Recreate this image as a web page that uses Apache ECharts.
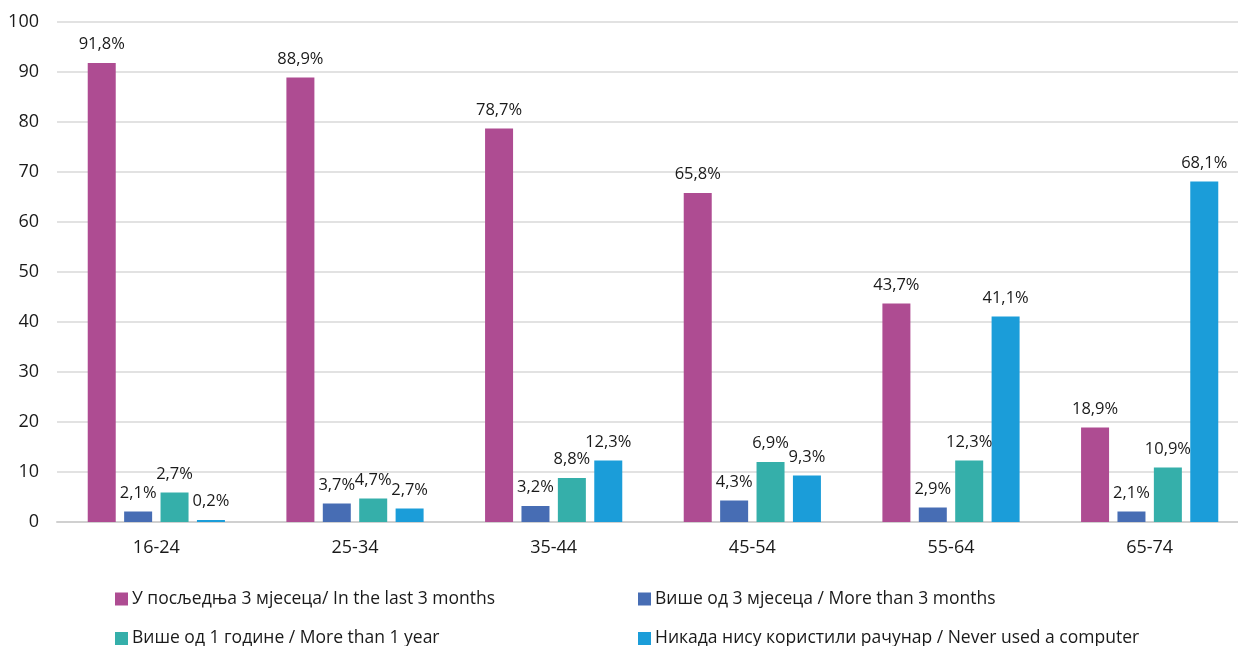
<!DOCTYPE html>
<html>
<head>
<meta charset="utf-8">
<script src="https://cdn.jsdelivr.net/npm/echarts@6/dist/echarts.min.js"></script>
<style>
html,body{margin:0;padding:0;background:#fff;}
#chart{width:1238px;height:646px;}
</style>
</head>
<body>
<div id="chart"></div>
<script>
const categories = ['16-24', '25-34', '35-44', '45-54', '55-64', '65-74'];
const seriesNames = [
  'У посљедња 3 мјесеца/ In the last 3 months',
  'Више од 3 мјесеца / More than 3 months',
  'Више од 1 године / More than 1 year',
  'Никада нису користили рачунар / Never used a computer'
];
const last3Months   = [91.8, 88.9, 78.7, 65.8, 43.7, 18.9];
const more3Months   = [2.1, 3.7, 3.2, 4.3, 2.9, 2.1];
const more1Year     = [5.9, 4.7, 8.8, 12.0, 12.3, 10.9];
const neverUsed     = [0.4, 2.7, 12.3, 9.3, 41.1, 68.1];
const labelsLast3   = ['91,8%', '88,9%', '78,7%', '65,8%', '43,7%', '18,9%'];
const labelsMore3   = ['2,1%', '3,7%', '3,2%', '4,3%', '2,9%', '2,1%'];
const labelsMore1Y  = ['2,7%', '4,7%', '8,8%', '6,9%', '12,3%', '10,9%'];
const labelsNever   = ['0,2%', '2,7%', '12,3%', '9,3%', '41,1%', '68,1%'];
const yTicks = [0, 10, 20, 30, 40, 50, 60, 70, 80, 90, 100];

const colors = ['#AE4C92', '#476DB4', '#35AFAA', '#1B9DD9'];
const values = [last3Months, more3Months, more1Year, neverUsed];
const labels = [labelsLast3, labelsMore3, labelsMore1Y, labelsNever];

const font = "'Open Sans', 'Noto Sans', sans-serif";

const chart = echarts.init(document.getElementById('chart'), null, {renderer: 'canvas'});

const legendPos = [
  {left: 115, top: 590},
  {left: 638, top: 590},
  {left: 115, top: 629.5},
  {left: 638, top: 629.5}
];

const option = {
  animation: false,
  backgroundColor: '#ffffff',
  color: colors,
  grid: {left: 57, width: 1192, top: 22, bottom: 124, containLabel: false, outerBoundsMode: 'none'},
  legend: seriesNames.map((n, i) => ({
    data: [n],
    left: legendPos[i].left,
    top: legendPos[i].top,
    itemWidth: 13,
    itemHeight: 13,
    padding: 0,
    icon: 'rect',
    textStyle: {fontFamily: font, fontSize: 17.5, color: '#1a1a1a', padding: [0, 0, 0, -1]}
  })),
  xAxis: {
    type: 'category',
    data: categories,
    axisTick: {show: false},
    axisLine: {show: true, lineStyle: {color: '#d0d0d0', width: 2}},
    axisLabel: {fontFamily: font, fontSize: 18, color: '#1a1a1a', margin: 17}
  },
  yAxis: {
    type: 'value',
    min: yTicks[0],
    max: yTicks[yTicks.length - 1],
    interval: yTicks[1] - yTicks[0],
    axisLine: {show: false},
    axisTick: {show: false},
    splitLine: {lineStyle: {color: '#d9d9d9', width: 1.5}},
    axisLabel: {fontFamily: font, fontSize: 18, color: '#1a1a1a', margin: 18}
  },
  series: seriesNames.map((n, i) => ({
    name: n,
    type: 'bar',
    data: values[i],
    barWidth: 28,
    barGap: '30%',
    itemStyle: {color: colors[i]},
    label: {
      show: true,
      position: 'top',
      distance: 10,
      fontFamily: font,
      fontSize: 16.5,
      color: '#1a1a1a',
      formatter: p => labels[i][p.dataIndex]
    }
  }))
};
chart.setOption(option);
</script>
</body>
</html>
